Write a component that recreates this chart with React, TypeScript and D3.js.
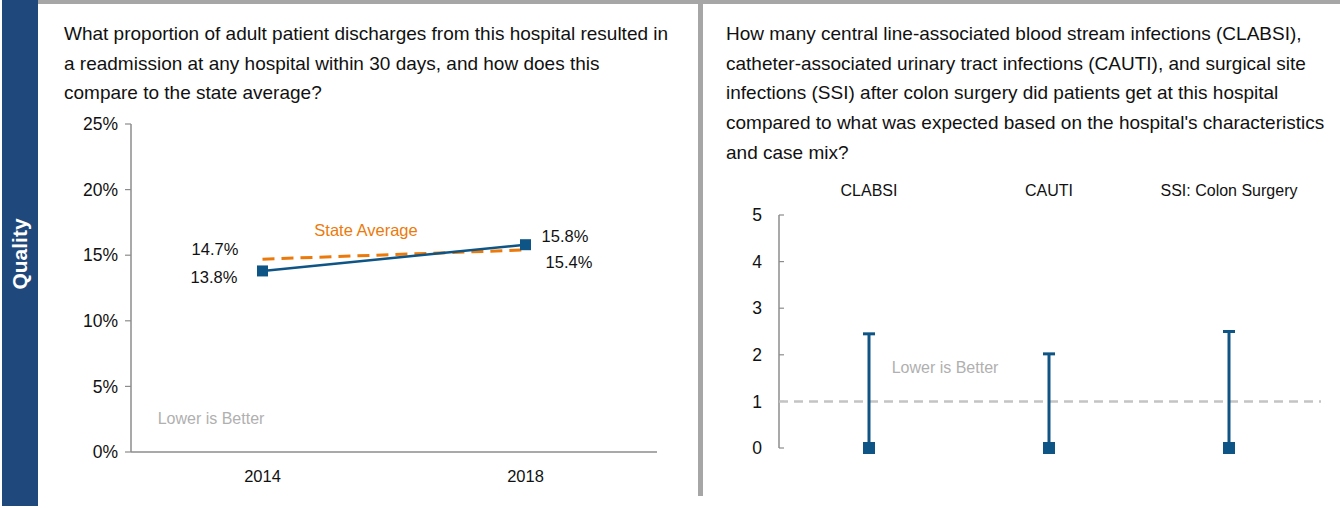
import React from "react";
import * as d3 from "d3";

// readmission chart
const years = ["2014", "2018"];
const hospitalRate = [13.8, 15.8];
const stateRate = [14.7, 15.4];
const pctTicks = [0, 5, 10, 15, 20, 25];

// infection chart
const infections = ["CLABSI", "CAUTI", "SSI: Colon Surgery"];
const infLow = [0, 0, 0];
const infHigh = [2.45, 2.02, 2.5];
const sirTicks = [0, 1, 2, 3, 4, 5];
const benchmark = 1;

const leftTitle = [
  "What proportion of adult patient discharges from this hospital resulted in",
  "a readmission at any hospital within 30 days, and how does this",
  "compare to the state average?",
];
const rightTitle = [
  "How many central line-associated blood stream infections (CLABSI),",
  "catheter-associated urinary tract infections (CAUTI), and surgical site",
  "infections (SSI) after colon surgery did patients get at this hospital",
  "compared to what was expected based on the hospital's characteristics",
  "and case mix?",
];

const W = 1340;
const H = 508;
const NAVY = "#1f497d";
const BLUE = "#0e5585";
const ORANGE = "#ec7a0b";
const GREY = "#a6a6a6";
const FONT = "'Liberation Sans', Arial, sans-serif";

const App = () => {
  // left scales
  const x1 = d3.scalePoint().domain(years).range([131, 657]).padding(0.5);
  const y1 = d3.scaleLinear().domain([0, 25]).range([452, 124]);
  const hosp = years.map((d, i) => ({ year: d, v: hospitalRate[i] }));
  const state = years.map((d, i) => ({ year: d, v: stateRate[i] }));
  const line = d3
    .line<{ year: string; v: number }>()
    .x((d) => x1(d.year) as number)
    .y((d) => y1(d.v));

  // right scales
  const x2 = d3.scaleBand().domain(infections).range([779, 1319]);
  const y2 = d3.scaleLinear().domain([0, 5]).range([448, 215]);

  return (
    <div style={{ position: "absolute", left: 0, top: 0 }}>
      <svg width={W} height={H} style={{ display: "block", fontFamily: FONT }}>
        <rect x={0} y={0} width={W} height={H} fill="#fff" />
        {/* frame */}
        <rect x={38} y={0} width={W - 38} height={4} fill={GREY} />
        <rect x={2} y={0} width={36} height={506} fill={NAVY} />
        <rect x={698} y={0} width={5} height={496} fill={GREY} />
        <text
          transform="translate(27,254) rotate(-90)"
          textAnchor="middle"
          fill="#fff"
          fontSize={21}
          fontWeight="bold"
        >
          Quality
        </text>

        {/* left panel */}
        {leftTitle.map((t, i) => (
          <text key={i} x={64} y={40 + i * 29.5} fontSize={19} fill="#111">
            {t}
          </text>
        ))}
        <g>
          <line x1={131} x2={131} y1={y1(25)} y2={y1(0)} stroke="#8c8c8c" strokeWidth={1.5} />
          <line x1={131} x2={657} y1={y1(0)} y2={y1(0)} stroke="#8c8c8c" strokeWidth={1.5} />
          {pctTicks.map((t) => (
            <g key={t}>
              <line x1={125} x2={131} y1={y1(t)} y2={y1(t)} stroke="#8c8c8c" strokeWidth={1.2} />
              <text x={118} y={y1(t)} dy="0.35em" textAnchor="end" fontSize={17.5} fill="#111">
                {t}%
              </text>
            </g>
          ))}
          {years.map((yr) => (
            <text key={yr} x={x1(yr)} y={482} textAnchor="middle" fontSize={16.5} fill="#111">
              {yr}
            </text>
          ))}
        </g>
        <path d={line(state) ?? ""} fill="none" stroke={ORANGE} strokeWidth={3} strokeDasharray="12 7" />
        <path d={line(hosp) ?? ""} fill="none" stroke={BLUE} strokeWidth={2.5} />
        {hosp.map((d) => (
          <rect
            key={d.year}
            x={(x1(d.year) as number) - 5.5}
            y={y1(d.v) - 5.5}
            width={11}
            height={11}
            fill={BLUE}
          />
        ))}
        <text x={215} y={y1(stateRate[0]) - 10} dy="0.35em" textAnchor="middle" fontSize={16.5} fill="#111">
          {stateRate[0].toFixed(1)}%
        </text>
        <text x={214} y={y1(hospitalRate[0]) + 6} dy="0.35em" textAnchor="middle" fontSize={16.5} fill="#111">
          {hospitalRate[0].toFixed(1)}%
        </text>
        <text x={565} y={y1(hospitalRate[1]) - 8} dy="0.35em" textAnchor="middle" fontSize={16.5} fill="#111">
          {hospitalRate[1].toFixed(1)}%
        </text>
        <text x={569} y={y1(stateRate[1]) + 12} dy="0.35em" textAnchor="middle" fontSize={16.5} fill="#111">
          {stateRate[1].toFixed(1)}%
        </text>
        <text x={366} y={230} dy="0.35em" textAnchor="middle" fontSize={16.5} fill={ORANGE}>
          State Average
        </text>
        <text x={211} y={418} dy="0.35em" textAnchor="middle" fontSize={16} fill="#b0b0b0">
          Lower is Better
        </text>

        {/* right panel */}
        {rightTitle.map((t, i) => (
          <text key={i} x={726} y={40 + i * 29.7} fontSize={19} fill="#111">
            {t}
          </text>
        ))}
        <line x1={779} x2={779} y1={y2(5)} y2={y2(0)} stroke="#8c8c8c" strokeWidth={1.5} />
        {sirTicks.map((t) => (
          <g key={t}>
            <line x1={779} x2={784} y1={y2(t)} y2={y2(t)} stroke="#8c8c8c" strokeWidth={1.2} />
            <text x={762} y={y2(t)} dy="0.35em" textAnchor="end" fontSize={17.5} fill="#111">
              {t}
            </text>
          </g>
        ))}
        {infections.map((c) => (
          <text
            key={c}
            x={(x2(c) as number) + x2.bandwidth() / 2}
            y={190}
            dy="0.35em"
            textAnchor="middle"
            fontSize={16}
            fill="#111"
          >
            {c}
          </text>
        ))}
        <line
          x1={779}
          x2={1321}
          y1={y2(benchmark)}
          y2={y2(benchmark)}
          stroke="#c4c4c4"
          strokeWidth={2.5}
          strokeDasharray="9 6"
        />
        <text x={945} y={367} dy="0.35em" textAnchor="middle" fontSize={16} fill="#b0b0b0">
          Lower is Better
        </text>
        {infections.map((c, i) => {
          const cx = (x2(c) as number) + x2.bandwidth() / 2;
          return (
            <g key={c}>
              <line x1={cx} x2={cx} y1={y2(infLow[i])} y2={y2(infHigh[i])} stroke={BLUE} strokeWidth={3} />
              <line x1={cx - 6} x2={cx + 6} y1={y2(infHigh[i])} y2={y2(infHigh[i])} stroke={BLUE} strokeWidth={3} />
              <rect x={cx - 6} y={y2(infLow[i]) - 6} width={12} height={12} fill={BLUE} />
            </g>
          );
        })}
      </svg>
    </div>
  );
};

export default App;
